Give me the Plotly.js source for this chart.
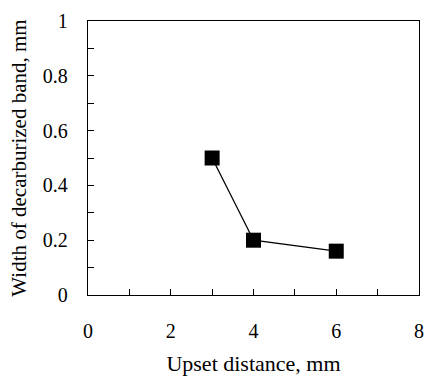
<!DOCTYPE html>
<html><head><meta charset="utf-8">
<script src="https://cdn.plot.ly/plotly-3.0.1.min.js"></script>
<style>html,body{margin:0;padding:0;background:#fff}#g{width:425px;height:376px}</style>
</head><body><div id="g"></div>
<script>
var upsetDistance = [3, 4, 6];
var bandWidth = [0.5, 0.2, 0.16];
var xTitle = "Upset distance, mm";
var yTitle = "Width of decarburized band, mm";

var fam = "Times New Roman, Liberation Serif, serif";
var tickFont = {family: fam, size: 20, color: "#000"};
var xTitleFont = {family: fam, size: 22, color: "#000"};
var yTitleFont = {family: fam, size: 21, color: "#000"};
Plotly.newPlot("g", [{
  x: upsetDistance, y: bandWidth, type: "scatter", mode: "lines+markers",
  line: {color: "#000", width: 1.3},
  marker: {symbol: "square", size: 15, color: "#000"}
}], {
  width: 425, height: 376,
  margin: {l: 88, r: 6, t: 21, b: 81},
  paper_bgcolor: "#fff", plot_bgcolor: "#fff",
  showlegend: false,
  font: tickFont,
  xaxis: {range: [0, 8], dtick: 2, tick0: 0, ticks: "inside", ticklen: 6, tickwidth: 1, tickcolor: "#000",
    minor: {dtick: 1, ticks: "inside", ticklen: 6, tickcolor: "#000"},
    showline: true, linecolor: "#000", linewidth: 1.3, mirror: true, showgrid: false, zeroline: false,
    ticklabelstandoff: 18, tickfont: tickFont,
    title: {text: xTitle, font: xTitleFont, standoff: 19}},
  yaxis: {range: [0, 1], dtick: 0.2, tick0: 0, ticks: "inside", ticklen: 6, tickwidth: 1, tickcolor: "#000",
    minor: {dtick: 0.1, ticks: "inside", ticklen: 6, tickcolor: "#000"},
    showline: true, linecolor: "#000", linewidth: 1.3, mirror: true, showgrid: false, zeroline: false,
    ticklabelstandoff: 15, tickfont: tickFont,
    title: {text: yTitle, font: yTitleFont, standoff: 10}}
}, {staticPlot: true});
</script></body></html>
